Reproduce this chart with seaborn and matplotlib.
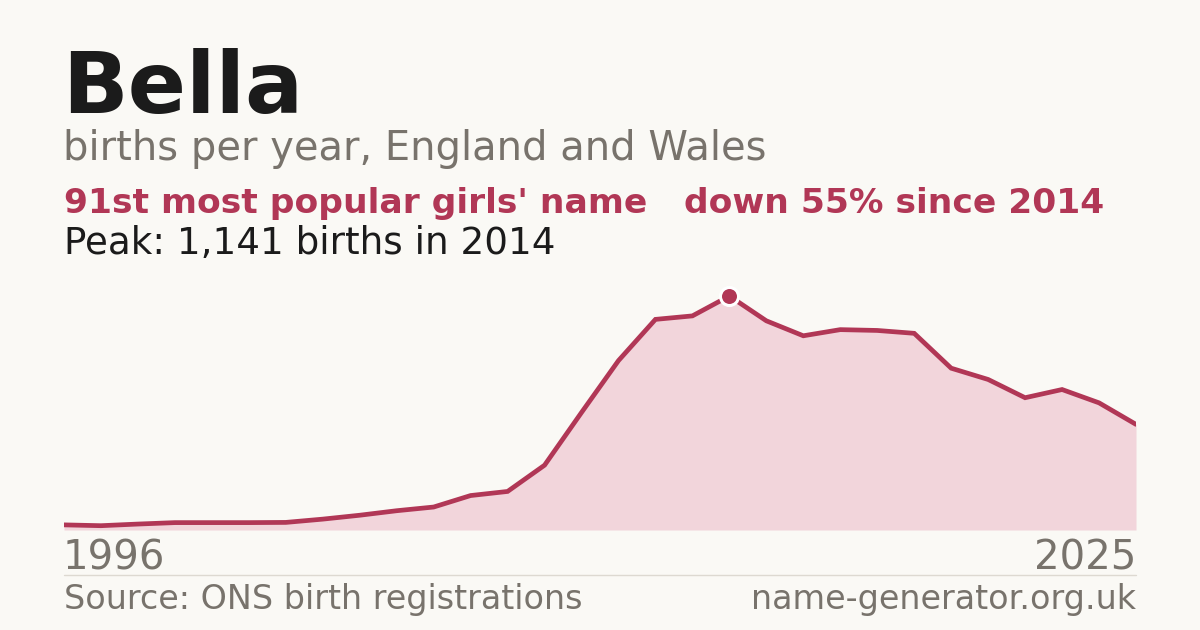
import matplotlib
matplotlib.use("Agg")
import matplotlib.pyplot as plt
import seaborn as sns
import pandas as pd

years = list(range(1996, 2026))
births = [25, 21, 29, 36, 36, 36, 37, 53, 72, 94, 112, 168, 188, 316, 573,
          826, 1027, 1044, 1141, 1020, 947, 977, 973, 959, 789, 734, 645, 685, 620, 515]
peak_year = 2014
peak_value = 1141

title = "Bella"
subtitle = "births per year, England and Wales"
rank_text = "91st most popular girls' name"
change_text = "down 55% since 2014"
peak_text = "Peak: 1,141 births in 2014"
source_text = "Source: ONS birth registrations"
site_text = "name-generator.org.uk"

BG = "#FAF9F5"
RED = "#B13756"
PINK = "#F2D5DB"
GRAY = "#78736C"
DARK = "#1B1B1B"

sns.set_theme(style="white")
plt.rcParams["font.family"] = ["DejaVu Sans"]

df = pd.DataFrame({"year": years, "births": births})

W, H = 1200, 630
fig = plt.figure(figsize=(12, 6.3), dpi=100, facecolor=BG)
ax = fig.add_axes([64 / W, 1 - 530 / H, (1136 - 64) / W, (530 - 270) / H])
ax.set_facecolor(BG)

ax.fill_between(df["year"], df["births"], 0, color=PINK, linewidth=0, zorder=1)
sns.lineplot(data=df, x="year", y="births", ax=ax, color=RED, linewidth=3.4,
             zorder=3, solid_joinstyle="miter")
ax.plot([peak_year], [peak_value], marker="o", markersize=13,
        markerfacecolor=RED, markeredgecolor="white", markeredgewidth=2.2,
        zorder=5, clip_on=False)

ax.set_xlim(1996, 2025)
ax.set_ylim(0, peak_value * 260 / 234)
ax.set_xlabel("")
ax.set_ylabel("")
ax.set_xticks([])
ax.set_yticks([])
for s in ax.spines.values():
    s.set_visible(False)

def fy(y):
    return 1 - y / H

def fx(x):
    return x / W

fig.text(fx(62), fy(113), title, fontsize=62, fontweight="bold", color=DARK, va="baseline", ha="left")
fig.text(fx(63), fy(160), subtitle, fontsize=28.8, color=GRAY, va="baseline", ha="left")
fig.text(fx(64), fy(213), rank_text, fontsize=24.8, fontweight="bold", color=RED, va="baseline", ha="left")
fig.text(fx(684), fy(213), change_text, fontsize=24.8, fontweight="bold", color=RED, va="baseline", ha="left")
fig.text(fx(64), fy(254), peak_text, fontsize=26.8, color=DARK, va="baseline", ha="left")

fig.text(fx(63), fy(569), str(years[0]), fontsize=29, color=GRAY, va="baseline", ha="left")
fig.text(fx(1136), fy(569), str(years[-1]), fontsize=29, color=GRAY, va="baseline", ha="right")

fig.add_artist(plt.Line2D([fx(64), fx(1136)], [fy(574.5), fy(574.5)], color="#DDD9D1", linewidth=1))

fig.text(fx(64), fy(609), source_text, fontsize=24, color=GRAY, va="baseline", ha="left")
fig.text(fx(1136), fy(609), site_text, fontsize=24, color=GRAY, va="baseline", ha="right")

fig.savefig("out.png", dpi=100, facecolor=BG)
